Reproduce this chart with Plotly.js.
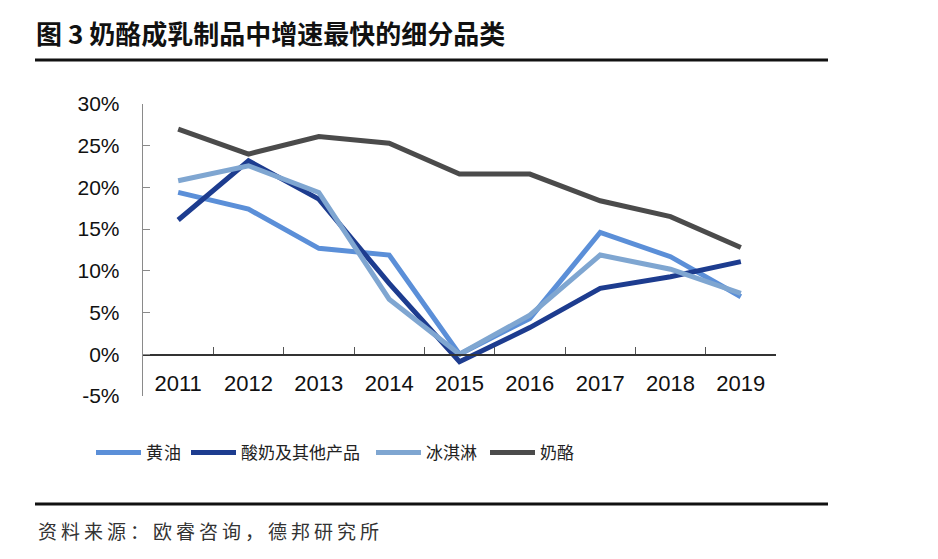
<!DOCTYPE html>
<html>
<head>
<meta charset="utf-8">
<script src="https://cdn.plot.ly/plotly-3.0.1.min.js"></script>
<style>
html,body{margin:0;padding:0;background:#fff;}
#chart{width:938px;height:559px;}
.infolayer .annotation text{letter-spacing:4px;}
.legend .legendtext{letter-spacing:1px;}
</style>
</head>
<body>
<div id="chart"></div>
<script>
// ---- data ----
const years = ['2011','2012','2013','2014','2015','2016','2017','2018','2019'];
const butter = [19.4, 17.4, 12.7, 11.9, 0.0, 4.3, 14.6, 11.7, 6.9];
const yogurt = [16.1, 23.2, 18.6, 8.5, -0.9, 3.2, 7.9, 9.3, 11.1];
const icecream = [20.8, 22.6, 19.4, 6.6, 0.0, 4.7, 11.9, 10.2, 7.3];
const cheese = [27.0, 24.0, 26.1, 25.3, 21.6, 21.6, 18.4, 16.5, 12.8];
const seriesNames = ['黄油', '酸奶及其他产品', '冰淇淋', '奶酪'];
const yTickVals = [-5, 0, 5, 10, 15, 20, 25, 30];
const yTickText = ['-5%', '0%', '5%', '10%', '15%', '20%', '25%', '30%'];
const titleText = '图 3 奶酪成乳制品中增速最快的细分品类';
const sourceText = '资料来源：欧睿咨询，德邦研究所';

// ---- geometry ----
const W = 938, H = 559;
const L = 143, R = 776, T = 104, B = 396;
const yMin = -5, yMax = 30;
const px = x => (x - L) / (R - L);
const py = y => (B - y) / (B - T);

const colors = ['#5B8FD8', '#1D3C8F', '#7FA6D1', '#4B4B4B'];
const vals = [butter, yogurt, icecream, cheese];
const legendIds = ['legend', 'legend2', 'legend3', 'legend4'];
const legendStarts = [98, 193, 378, 492];

const traces = vals.map((v, i) => ({
  type: 'scatter', mode: 'lines', x: years, y: v, name: seriesNames[i],
  line: {color: colors[i], width: 5},
  legend: legendIds[i],
  hoverinfo: 'skip'
}));

const cjk = '"Noto Sans CJK SC", "Liberation Sans", sans-serif';
const layout = {
  width: W, height: H,
  margin: {l: L, r: W - R, t: T, b: H - B, pad: 0},
  paper_bgcolor: '#fff', plot_bgcolor: '#fff',
  showlegend: true,
  title: {
    text: '<b>' + titleText + '</b>',
    font: {family: cjk, size: 26, color: '#111'},
    xref: 'container', yref: 'container',
    x: 36 / W, xanchor: 'left', y: 1 - 35 / H, yanchor: 'middle'
  },
  xaxis: {
    type: 'category', range: [-0.5, 8.5],
    anchor: 'free', position: (0 - yMin) / (yMax - yMin),
    showline: true, linecolor: '#333', linewidth: 1.3,
    ticks: 'inside', tickson: 'boundaries', ticklen: 7, tickcolor: '#555', tickwidth: 1,
    showgrid: false, zeroline: false,
    tickfont: {family: '"Liberation Sans", Arial, sans-serif', size: 22, color: '#111'},
    ticklabelstandoff: 9
  },
  yaxis: {
    range: [yMin, yMax], tickvals: yTickVals, ticktext: yTickText,
    showline: true, linecolor: '#8a8a8a', linewidth: 1.3,
    ticks: 'inside', ticklen: 7, tickcolor: '#8a8a8a', tickwidth: 1,
    showgrid: false, zeroline: false,
    tickfont: {family: '"Liberation Sans", Arial, sans-serif', size: 21, color: '#111'},
    ticklabelstandoff: 18
  },
  annotations: [{
    text: sourceText, xref: 'paper', yref: 'paper',
    x: px(66), xanchor: 'left', y: py(530), yanchor: 'middle',
    showarrow: false, font: {family: cjk, size: 19, color: '#333'}
  }],
  shapes: [
    {type: 'line', xref: 'paper', yref: 'paper', x0: px(35), x1: px(828), y0: py(60), y1: py(60),
     line: {color: '#111', width: 3}},
    {type: 'line', xref: 'paper', yref: 'paper', x0: px(35), x1: px(828), y0: py(504), y1: py(504),
     line: {color: '#111', width: 3}}
  ]
};

legendIds.forEach((id, i) => {
  layout[id] = {
    orientation: 'h', x: px(legendStarts[i] - 7), xanchor: 'left', y: py(453), yanchor: 'middle',
    font: {family: cjk, size: 17, color: '#222'},
    bgcolor: 'rgba(0,0,0,0)', itemwidth: 45
  };
});

Plotly.newPlot('chart', traces, layout, {staticPlot: true, displayModeBar: false});
</script>
</body>
</html>
